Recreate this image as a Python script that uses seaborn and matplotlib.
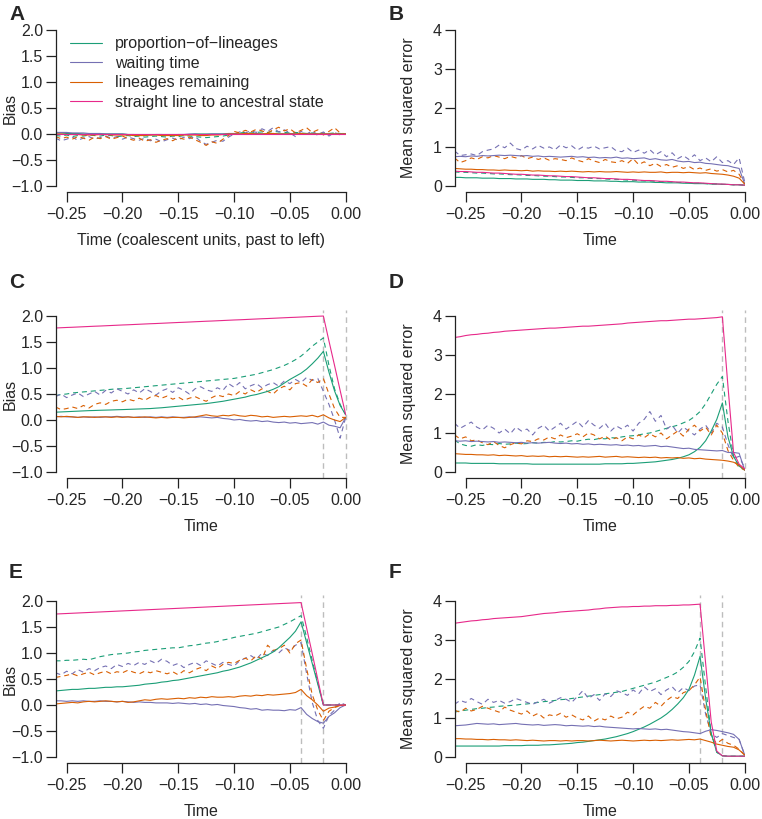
import matplotlib
matplotlib.use("Agg")
import matplotlib.pyplot as plt
from matplotlib.lines import Line2D
import seaborn as sns

# time axis: coalescent units, every 0.005 from -0.26 to 0
time = [-0.26, -0.255, -0.25, -0.245, -0.24, -0.235, -0.23, -0.225, -0.22, -0.215,
        -0.21, -0.205, -0.2, -0.195, -0.19, -0.185, -0.18, -0.175, -0.17, -0.165,
        -0.16, -0.155, -0.15, -0.145, -0.14, -0.135, -0.13, -0.125, -0.12, -0.115,
        -0.11, -0.105, -0.1, -0.095, -0.09, -0.085, -0.08, -0.075, -0.07, -0.065,
        -0.06, -0.055, -0.05, -0.045, -0.04, -0.035, -0.03, -0.025, -0.02, -0.015,
        -0.01, -0.005, 0.0]

methods = ["proportion\u2212of\u2212lineages", "waiting time", "lineages remaining",
           "straight line to ancestral state"]
colors = ["#1B9E77", "#7570B3", "#D95F02", "#E7298A"]

# ---- panel A (bias) ----
a_green = [0.02, 0.02, 0.01, 0.01, 0.01, 0.0, 0.0, 0.0, 0.0, 0.0,
           0.0, 0.0, 0.0, -0.01, -0.01, -0.01, -0.01, -0.01, -0.01, -0.01,
           -0.01, -0.01, -0.01, -0.01, -0.01, 0.0, 0.0, 0.0, 0.0, 0.0,
           0.0, 0.0, 0.0, 0.0, 0.0, 0.0, 0.0, 0.0, 0.0, 0.0,
           0.0, 0.0, 0.0, 0.0, 0.0, 0.0, 0.0, 0.0, 0.0, 0.0,
           0.0, 0.0, 0.0]
a_purple = [0.03, 0.03, 0.03, 0.02, 0.02, 0.02, 0.01, 0.01, 0.01, 0.0,
            0.0, 0.0, 0.0, -0.01, -0.01, -0.02, -0.02, -0.02, -0.01, -0.01,
            -0.02, -0.02, -0.01, -0.01, 0.0, 0.0, -0.01, -0.01, 0.0, 0.0,
            0.0, 0.01, 0.01, 0.0, 0.0, 0.01, 0.01, 0.0, 0.0, 0.01,
            0.0, 0.0, 0.01, 0.0, 0.0, 0.0, 0.01, 0.0, 0.0, 0.0,
            0.0, 0.0, 0.0]
a_orange = [0.0, 0.0, -0.01, -0.01, -0.01, -0.02, -0.02, -0.02, -0.01, -0.01,
            -0.02, -0.02, -0.02, -0.02, -0.03, -0.03, -0.03, -0.02, -0.02, -0.03,
            -0.03, -0.03, -0.03, -0.02, -0.02, -0.02, -0.03, -0.03, -0.02, -0.02,
            -0.01, 0.0, 0.0, 0.0, 0.01, 0.01, 0.0, 0.0, 0.01, 0.01,
            0.0, 0.0, 0.0, 0.0, 0.01, 0.0, 0.0, 0.0, 0.0, 0.0,
            0.0, 0.0, 0.0]
a_magenta = [0.0] * 53
a_green_d = [-0.03, -0.04, -0.02, -0.05, -0.03, -0.04, -0.02, -0.03, -0.04, -0.02,
             -0.03, -0.05, -0.04, -0.03, -0.05, -0.04, -0.06, -0.05, -0.04, -0.05,
             -0.06, -0.04, -0.05, -0.03, -0.04, -0.05, -0.06, -0.07, -0.06, -0.05,
             -0.04, -0.02, 0.0, 0.02, 0.03, 0.02, 0.03, 0.04, 0.03, 0.05,
             0.04, 0.03, 0.02, 0.03, 0.02, 0.01, 0.02, 0.01, 0.02, 0.01,
             0.02, 0.01, 0.0]
a_purple_d = [-0.08, -0.13, -0.1, -0.06, -0.12, -0.08, -0.05, -0.1, -0.07, -0.04,
              -0.08, -0.05, -0.1, -0.06, -0.09, -0.12, -0.08, -0.13, -0.1, -0.15,
              -0.11, -0.08, -0.12, -0.06, -0.09, -0.05, -0.14, -0.2, -0.16, -0.12,
              -0.14, -0.06, 0.0, 0.04, 0.02, 0.06, 0.03, 0.1, 0.05, 0.12,
              0.04, 0.08, 0.02, -0.05, 0.05, 0.0, 0.06, -0.03, 0.04, -0.04,
              0.03, -0.02, 0.0]
a_orange_d = [-0.05, -0.09, -0.06, -0.1, -0.05, -0.08, -0.12, -0.06, -0.09, -0.05,
              -0.1, -0.07, -0.04, -0.09, -0.12, -0.08, -0.14, -0.11, -0.16, -0.12,
              -0.09, -0.13, -0.07, -0.1, -0.06, -0.11, -0.16, -0.22, -0.15, -0.18,
              -0.1, -0.03, 0.05, 0.02, 0.07, 0.04, 0.09, 0.06, 0.02, 0.08,
              0.13, 0.06, 0.1, 0.02, 0.07, 0.12, 0.03, 0.08, -0.02, 0.05,
              0.12, 0.02, 0.0]

# ---- panel B (MSE) ----
b_green = [0.22, 0.22, 0.21, 0.21, 0.21, 0.2, 0.2, 0.2, 0.19, 0.19,
           0.19, 0.18, 0.18, 0.18, 0.17, 0.17, 0.17, 0.16, 0.16, 0.15,
           0.15, 0.15, 0.14, 0.14, 0.14, 0.13, 0.13, 0.13, 0.12, 0.12,
           0.11, 0.11, 0.11, 0.1, 0.1, 0.1, 0.09, 0.09, 0.08, 0.08,
           0.08, 0.07, 0.07, 0.06, 0.06, 0.06, 0.05, 0.05, 0.04, 0.04,
           0.03, 0.03, 0.02]
b_purple = [0.75, 0.76, 0.75, 0.77, 0.76, 0.78, 0.77, 0.78, 0.79, 0.78,
            0.79, 0.78, 0.77, 0.78, 0.76, 0.77, 0.75, 0.76, 0.75, 0.74,
            0.75, 0.76, 0.74, 0.75, 0.73, 0.74, 0.72, 0.73, 0.72, 0.74,
            0.71, 0.72, 0.7, 0.71, 0.72, 0.68, 0.7, 0.67, 0.66, 0.68,
            0.64, 0.62, 0.63, 0.6, 0.61, 0.58, 0.57, 0.55, 0.53, 0.52,
            0.48, 0.45, 0.05]
b_orange = [0.45, 0.44, 0.43, 0.43, 0.42, 0.42, 0.41, 0.41, 0.4, 0.41,
            0.4, 0.4, 0.39, 0.4, 0.38, 0.39, 0.38, 0.38, 0.37, 0.38,
            0.37, 0.38, 0.37, 0.36, 0.37, 0.36, 0.37, 0.36, 0.36, 0.37,
            0.36, 0.35, 0.36, 0.35, 0.36, 0.35, 0.35, 0.36, 0.34, 0.35,
            0.35, 0.34, 0.35, 0.34, 0.33, 0.34, 0.32, 0.31, 0.3, 0.28,
            0.25, 0.2, 0.05]
b_magenta = [0.38, 0.37, 0.37, 0.36, 0.35, 0.35, 0.34, 0.33, 0.33, 0.32,
             0.31, 0.3, 0.3, 0.29, 0.28, 0.28, 0.27, 0.26, 0.26, 0.25,
             0.24, 0.24, 0.23, 0.22, 0.21, 0.21, 0.2, 0.19, 0.19, 0.18,
             0.17, 0.17, 0.16, 0.15, 0.14, 0.14, 0.13, 0.12, 0.12, 0.11,
             0.1, 0.1, 0.09, 0.08, 0.08, 0.07, 0.06, 0.05, 0.05, 0.04,
             0.03, 0.03, 0.02]
b_green_d = [0.36, 0.35, 0.35, 0.34, 0.33, 0.33, 0.32, 0.31, 0.31, 0.3,
             0.29, 0.29, 0.28, 0.27, 0.27, 0.26, 0.25, 0.25, 0.24, 0.23,
             0.23, 0.22, 0.21, 0.21, 0.2, 0.19, 0.19, 0.18, 0.17, 0.17,
             0.16, 0.15, 0.15, 0.14, 0.13, 0.13, 0.12, 0.11, 0.11, 0.1,
             0.09, 0.09, 0.08, 0.07, 0.07, 0.06, 0.05, 0.05, 0.04, 0.04,
             0.03, 0.03, 0.02]
b_purple_d = [0.9, 0.78, 0.8, 0.82, 0.78, 0.88, 0.92, 0.95, 1.05, 0.98,
              1.1, 0.96, 0.92, 1.02, 0.95, 1.04, 0.97, 1.0, 0.93, 1.05,
              0.98, 1.03, 0.92, 1.0, 0.97, 1.02, 0.95, 0.98, 1.01, 0.9,
              0.88, 0.97, 0.86, 0.92, 0.84, 0.93, 0.8, 0.88, 0.75, 0.85,
              0.7, 0.78, 0.68, 0.8, 0.65, 0.72, 0.62, 0.75, 0.6, 0.65,
              0.55, 0.72, 0.1]
b_orange_d = [0.72, 0.6, 0.65, 0.72, 0.68, 0.75, 0.72, 0.78, 0.74, 0.7,
              0.76, 0.72, 0.78, 0.7, 0.74, 0.68, 0.72, 0.66, 0.7, 0.68,
              0.65, 0.72, 0.66, 0.62, 0.7, 0.64, 0.6, 0.68, 0.62, 0.6,
              0.65, 0.58, 0.7, 0.55, 0.62, 0.52, 0.58, 0.5, 0.55, 0.48,
              0.52, 0.45, 0.5, 0.42, 0.46, 0.4, 0.44, 0.38, 0.42, 0.36,
              0.4, 0.3, 0.05]

# ---- panel C (bias) ----
c_green = [0.15, 0.155, 0.16, 0.165, 0.17, 0.175, 0.18, 0.183, 0.187, 0.19,
           0.193, 0.197, 0.2, 0.204, 0.208, 0.212, 0.216, 0.22, 0.228, 0.235,
           0.245, 0.255, 0.265, 0.275, 0.285, 0.295, 0.305, 0.315, 0.33, 0.345,
           0.36, 0.38, 0.4, 0.42, 0.44, 0.47, 0.49, 0.52, 0.55, 0.59,
           0.64, 0.71, 0.78, 0.84, 0.9, 0.98, 1.08, 1.19, 1.32, 0.92,
           0.56, 0.28, 0.1]
c_purple = [0.06, 0.07, 0.06, 0.06, 0.05, 0.06, 0.05, 0.06, 0.05, 0.06,
            0.06, 0.07, 0.06, 0.06, 0.05, 0.06, 0.05, 0.06, 0.05, 0.06,
            0.05, 0.06, 0.05, 0.05, 0.06, 0.05, 0.06, 0.05, 0.04, 0.05,
            0.03, 0.02, 0.0, 0.01, -0.01, -0.02, -0.01, -0.03, -0.02, -0.04,
            -0.05, -0.04, -0.06, -0.05, -0.07, -0.06, -0.05, -0.08, -0.04, -0.1,
            -0.12, -0.15, 0.05]
c_orange = [0.07, 0.06, 0.07, 0.06, 0.05, 0.06, 0.06, 0.05, 0.06, 0.06,
            0.05, 0.06, 0.05, 0.06, 0.05, 0.05, 0.06, 0.05, 0.04, 0.05,
            0.04, 0.05, 0.05, 0.04, 0.05, 0.06, 0.08, 0.1, 0.08, 0.07,
            0.09, 0.08, 0.1, 0.08, 0.07, 0.09, 0.08, 0.06, 0.07, 0.05,
            0.06, 0.07, 0.06, 0.07, 0.08, 0.07, 0.09, 0.06, 0.1, 0.04,
            0.0, -0.03, 0.05]
c_magenta = [1.77, 1.775, 1.78, 1.784, 1.789, 1.794, 1.799, 1.804, 1.808, 1.813,
             1.818, 1.823, 1.828, 1.832, 1.837, 1.842, 1.847, 1.852, 1.856, 1.861,
             1.866, 1.871, 1.876, 1.88, 1.885, 1.89, 1.895, 1.9, 1.904, 1.909,
             1.914, 1.919, 1.924, 1.928, 1.933, 1.938, 1.943, 1.948, 1.952, 1.957,
             1.962, 1.967, 1.972, 1.976, 1.981, 1.986, 1.991, 1.996, 2.0, 1.52,
             1.05, 0.57, 0.1]
c_green_d = [0.47, 0.49, 0.5, 0.52, 0.53, 0.54, 0.55, 0.56, 0.57, 0.58,
             0.59, 0.6, 0.6, 0.61, 0.62, 0.63, 0.64, 0.65, 0.66, 0.67,
             0.68, 0.69, 0.7, 0.71, 0.72, 0.73, 0.74, 0.75, 0.76, 0.77,
             0.78, 0.79, 0.8, 0.82, 0.84, 0.86, 0.88, 0.91, 0.94, 0.97,
             1.01, 1.05, 1.1, 1.16, 1.23, 1.32, 1.42, 1.5, 1.58, 1.05,
             0.6, 0.3, 0.1]
c_purple_d = [0.45, 0.5, 0.43, 0.48, 0.52, 0.45, 0.5, 0.55, 0.48, 0.57,
              0.52, 0.6, 0.55, 0.5, 0.58, 0.52, 0.6, 0.55, 0.48, 0.56,
              0.6, 0.53, 0.62, 0.57, 0.5, 0.6, 0.64, 0.58, 0.55, 0.62,
              0.57, 0.7, 0.63, 0.72, 0.6, 0.66, 0.7, 0.62, 0.68, 0.72,
              0.65, 0.75, 0.7, 0.78, 0.72, 0.82, 0.76, 0.8, 0.55, 0.3,
              0.0, -0.35, 0.05]
c_orange_d = [0.25, 0.2, 0.22, 0.25, 0.22, 0.28, 0.23, 0.3, 0.33, 0.3,
              0.36, 0.38, 0.35, 0.4, 0.37, 0.42, 0.38, 0.44, 0.47, 0.42,
              0.46, 0.4, 0.44, 0.38, 0.42, 0.45, 0.4, 0.36, 0.43, 0.48,
              0.45, 0.5, 0.47, 0.55, 0.5, 0.58, 0.53, 0.6, 0.55, 0.5,
              0.6, 0.65, 0.58, 0.7, 0.72, 0.65, 0.78, 0.72, 0.8, 0.5,
              0.22, 0.05, 0.05]

# ---- panel D (MSE) ----
d_green = [0.23, 0.23, 0.23, 0.22, 0.22, 0.22, 0.22, 0.22, 0.21, 0.21,
           0.21, 0.21, 0.21, 0.21, 0.2, 0.2, 0.2, 0.2, 0.2, 0.2,
           0.2, 0.2, 0.2, 0.2, 0.2, 0.2, 0.2, 0.21, 0.21, 0.21,
           0.21, 0.22, 0.22, 0.23, 0.24, 0.25, 0.26, 0.28, 0.3, 0.32,
           0.35, 0.39, 0.44, 0.52, 0.63, 0.8, 1.05, 1.35, 1.77, 0.9,
           0.4, 0.15, 0.05]
d_purple = [0.8, 0.79, 0.8, 0.78, 0.79, 0.78, 0.77, 0.78, 0.76, 0.77,
            0.76, 0.75, 0.76, 0.74, 0.75, 0.74, 0.75, 0.76, 0.74, 0.73,
            0.74, 0.72, 0.73, 0.71, 0.72, 0.7, 0.71, 0.7, 0.69, 0.7,
            0.68, 0.69, 0.67, 0.68, 0.66, 0.67, 0.68, 0.65, 0.66, 0.64,
            0.62, 0.6, 0.61, 0.58, 0.57, 0.56, 0.55, 0.54, 0.55, 0.5,
            0.5, 0.48, 0.05]
d_orange = [0.47, 0.46, 0.45, 0.45, 0.44, 0.44, 0.43, 0.44, 0.42, 0.43,
            0.42, 0.41, 0.42, 0.4, 0.41, 0.4, 0.41, 0.39, 0.4, 0.39,
            0.4, 0.39, 0.38, 0.39, 0.38, 0.39, 0.4, 0.38, 0.39, 0.4,
            0.38, 0.39, 0.38, 0.37, 0.38, 0.37, 0.38, 0.36, 0.37, 0.36,
            0.37, 0.35, 0.36, 0.34, 0.35, 0.33, 0.32, 0.31, 0.3, 0.28,
            0.25, 0.18, 0.05]
d_magenta = [3.45, 3.47, 3.5, 3.52, 3.53, 3.55, 3.56, 3.58, 3.59, 3.61,
             3.62, 3.63, 3.64, 3.65, 3.66, 3.67, 3.68, 3.69, 3.69, 3.7,
             3.71, 3.72, 3.73, 3.74, 3.74, 3.75, 3.76, 3.77, 3.78, 3.79,
             3.8, 3.82, 3.83, 3.84, 3.85, 3.86, 3.87, 3.88, 3.88, 3.89,
             3.9, 3.91, 3.92, 3.92, 3.93, 3.94, 3.95, 3.96, 3.98, 2.2,
             0.5, 0.2, 0.08]
d_green_d = [0.82, 0.72, 0.68, 0.66, 0.7, 0.68, 0.71, 0.7, 0.73, 0.71,
             0.72, 0.74, 0.72, 0.73, 0.75, 0.74, 0.76, 0.75, 0.78, 0.77,
             0.78, 0.8, 0.79, 0.82, 0.84, 0.83, 0.86, 0.85, 0.88, 0.87,
             0.9, 0.92, 0.93, 0.95, 0.98, 1.0, 1.04, 1.08, 1.12, 1.16,
             1.2, 1.26, 1.32, 1.42, 1.55, 1.75, 2.0, 2.25, 2.45, 1.3,
             0.4, 0.15, 0.05]
d_purple_d = [1.25, 1.12, 1.2, 1.28, 1.15, 1.08, 1.2, 1.12, 1.0, 1.1,
              0.98, 1.15, 1.05, 1.1, 0.95, 1.12, 1.2, 1.05, 1.15, 1.25,
              1.1, 1.2, 1.3, 1.15, 1.32, 1.2, 1.12, 1.25, 1.05, 1.18,
              1.1, 1.2, 1.05, 1.25, 1.35, 1.55, 1.3, 1.45, 1.1, 1.2,
              1.0, 1.15, 1.05, 0.95, 1.1, 1.2, 1.0, 1.25, 1.15, 0.7,
              0.35, 0.4, 0.1]
d_orange_d = [0.95, 0.85, 0.9, 0.8, 0.82, 0.75, 0.7, 0.78, 0.68, 0.62,
              0.7, 0.75, 0.72, 0.8, 0.78, 0.85, 0.82, 0.9, 0.85, 0.95,
              0.88, 0.92, 0.98, 0.9, 1.0, 0.95, 0.85, 0.92, 0.82, 0.88,
              0.8, 0.9, 0.85, 0.95, 0.88, 0.98, 0.9, 1.0, 0.85, 0.95,
              1.05, 0.92, 1.1, 1.2, 1.05, 1.15, 0.95, 1.2, 1.0, 0.55,
              0.3, 0.12, 0.05]

# ---- panel E (bias) ----
e_green = [0.27, 0.28, 0.29, 0.3, 0.3, 0.31, 0.32, 0.32, 0.33, 0.34,
           0.34, 0.35, 0.35, 0.36, 0.37, 0.38, 0.4, 0.41, 0.42, 0.44,
           0.45, 0.47, 0.48, 0.5, 0.52, 0.54, 0.56, 0.58, 0.6, 0.62,
           0.65, 0.67, 0.7, 0.73, 0.77, 0.81, 0.86, 0.91, 0.96, 1.02,
           1.1, 1.2, 1.3, 1.42, 1.6, 1.2, 0.8, 0.4, 0.0, 0.0,
           0.0, 0.0, 0.0]
e_purple = [0.08, 0.08, 0.07, 0.08, 0.07, 0.08, 0.07, 0.07, 0.08, 0.07,
            0.07, 0.06, 0.07, 0.06, 0.05, 0.06, 0.05, 0.05, 0.04, 0.04,
            0.04, 0.03, 0.04, 0.03, 0.02, 0.03, 0.01, 0.02, 0.0, 0.01,
            -0.01, -0.02, -0.03, -0.05, -0.06, -0.08, -0.07, -0.1, -0.09, -0.1,
            -0.1, -0.11, -0.09, -0.1, -0.05, -0.18, -0.26, -0.32, -0.35, -0.22,
            -0.15, -0.05, 0.0]
e_orange = [0.02, 0.03, 0.04, 0.05, 0.04, 0.06, 0.07, 0.06, 0.07, 0.08,
            0.07, 0.06, 0.07, 0.05, 0.06, 0.08, 0.1, 0.09, 0.11, 0.12,
            0.11, 0.12, 0.13, 0.12, 0.14, 0.13, 0.15, 0.14, 0.16, 0.15,
            0.15, 0.16, 0.15, 0.17, 0.18, 0.17, 0.19, 0.18, 0.2, 0.19,
            0.2, 0.21, 0.22, 0.24, 0.3, 0.18, 0.1, 0.0, -0.12, -0.06,
            -0.04, -0.01, 0.0]
e_magenta = [1.75, 1.755, 1.76, 1.765, 1.77, 1.775, 1.78, 1.785, 1.79, 1.795,
             1.8, 1.805, 1.81, 1.815, 1.82, 1.825, 1.83, 1.835, 1.84, 1.845,
             1.85, 1.855, 1.86, 1.865, 1.87, 1.875, 1.88, 1.885, 1.89, 1.895,
             1.9, 1.905, 1.91, 1.915, 1.92, 1.925, 1.93, 1.935, 1.94, 1.945,
             1.95, 1.955, 1.96, 1.965, 1.97, 1.48, 0.99, 0.49, 0.0, 0.0,
             0.0, 0.0, 0.0]
e_green_d = [0.85, 0.85, 0.86, 0.86, 0.87, 0.88, 0.87, 0.9, 0.93, 0.95,
             0.97, 0.98, 0.99, 1.0, 1.02, 1.03, 1.05, 1.06, 1.07, 1.08,
             1.09, 1.1, 1.1, 1.12, 1.14, 1.15, 1.17, 1.19, 1.2, 1.22,
             1.25, 1.27, 1.3, 1.32, 1.34, 1.36, 1.38, 1.41, 1.44, 1.47,
             1.5, 1.55, 1.6, 1.66, 1.72, 1.3, 0.86, 0.43, 0.0, 0.0,
             0.0, 0.0, 0.0]
e_purple_d = [0.62, 0.58, 0.65, 0.6, 0.68, 0.63, 0.7, 0.66, 0.72, 0.75,
              0.7, 0.78, 0.74, 0.8, 0.76, 0.82, 0.78, 0.85, 0.8, 0.88,
              0.84, 0.76, 0.8, 0.72, 0.78, 0.82, 0.76, 0.85, 0.8, 0.75,
              0.82, 0.78, 0.75, 0.85, 0.9, 0.95, 0.88, 1.0, 0.95, 1.05,
              1.0, 1.1, 1.05, 1.15, 1.2, 0.6, 0.05, -0.3, -0.45, -0.2,
              -0.1, 0.05, 0.0]
e_orange_d = [0.53, 0.55, 0.57, 0.6, 0.56, 0.6, 0.63, 0.58, 0.62, 0.65,
              0.6, 0.64, 0.62, 0.67, 0.63, 0.6, 0.65, 0.62, 0.66, 0.63,
              0.6, 0.64, 0.58, 0.66, 0.62, 0.68, 0.72, 0.66, 0.75, 0.7,
              0.78, 0.82, 0.8, 0.86, 0.9, 0.85, 0.95, 0.88, 1.15, 1.05,
              1.08, 1.15, 1.0, 1.18, 1.25, 0.7, 0.2, -0.1, -0.3, -0.12,
              -0.05, 0.0, 0.0]

# ---- panel F (MSE) ----
f_green = [0.28, 0.28, 0.28, 0.28, 0.28, 0.28, 0.28, 0.28, 0.28, 0.29,
           0.29, 0.29, 0.29, 0.3, 0.3, 0.3, 0.31, 0.31, 0.32, 0.33,
           0.34, 0.35, 0.37, 0.38, 0.4, 0.42, 0.44, 0.46, 0.49, 0.52,
           0.56, 0.6, 0.65, 0.71, 0.77, 0.84, 0.92, 1.0, 1.1, 1.22,
           1.36, 1.52, 1.73, 2.1, 2.58, 1.5, 0.6, 0.12, 0.03, 0.02,
           0.02, 0.02, 0.02]
f_purple = [0.8, 0.81, 0.82, 0.84, 0.86, 0.85, 0.84, 0.85, 0.83, 0.84,
            0.85, 0.86, 0.84, 0.83, 0.82, 0.83, 0.81, 0.82, 0.83, 0.82,
            0.8, 0.81, 0.8, 0.79, 0.8, 0.78, 0.79, 0.77, 0.76, 0.75,
            0.74, 0.73, 0.72, 0.73, 0.72, 0.71, 0.72, 0.7, 0.71, 0.69,
            0.67, 0.65, 0.64, 0.62, 0.6, 0.66, 0.7, 0.68, 0.65, 0.62,
            0.58, 0.45, 0.05]
f_orange = [0.47, 0.47, 0.46, 0.46, 0.45, 0.45, 0.44, 0.45, 0.44, 0.44,
            0.43, 0.44, 0.43, 0.42, 0.43, 0.42, 0.41, 0.42, 0.42, 0.41,
            0.42, 0.41, 0.42, 0.42, 0.41, 0.42, 0.43, 0.42, 0.41, 0.42,
            0.43, 0.42, 0.41, 0.42, 0.43, 0.42, 0.43, 0.42, 0.43, 0.44,
            0.43, 0.44, 0.45, 0.44, 0.46, 0.42, 0.38, 0.33, 0.3, 0.27,
            0.25, 0.18, 0.05]
f_magenta = [3.43, 3.45, 3.47, 3.49, 3.5, 3.52, 3.53, 3.55, 3.56, 3.57,
             3.58, 3.59, 3.6, 3.62, 3.64, 3.66, 3.68, 3.69, 3.7, 3.72,
             3.73, 3.74, 3.75, 3.76, 3.77, 3.79, 3.8, 3.82, 3.83, 3.84,
             3.85, 3.85, 3.86, 3.86, 3.87, 3.87, 3.88, 3.88, 3.88, 3.89,
             3.89, 3.9, 3.9, 3.91, 3.92, 2.4, 0.9, 0.15, 0.03, 0.02,
             0.02, 0.02, 0.02]
f_green_d = [1.15, 1.18, 1.2, 1.22, 1.24, 1.25, 1.27, 1.28, 1.3, 1.31,
             1.32, 1.33, 1.35, 1.36, 1.38, 1.4, 1.42, 1.43, 1.45, 1.47,
             1.48, 1.5, 1.52, 1.54, 1.56, 1.58, 1.6, 1.62, 1.64, 1.66,
             1.68, 1.72, 1.76, 1.8, 1.84, 1.88, 1.92, 1.98, 2.04, 2.1,
             2.18, 2.3, 2.45, 2.7, 3.05, 1.8, 0.6, 0.12, 0.03, 0.02,
             0.02, 0.02, 0.02]
f_purple_d = [1.35, 1.45, 1.4, 1.5, 1.42, 1.35, 1.48, 1.4, 1.45, 1.38,
              1.42, 1.5, 1.45, 1.4, 1.35, 1.42, 1.48, 1.38, 1.45, 1.52,
              1.48, 1.4, 1.55, 1.7, 1.5, 1.6, 1.45, 1.62, 1.55, 1.7,
              1.65, 1.58, 1.72, 1.62, 1.8, 1.68, 1.75, 1.6, 1.72, 1.8,
              1.65, 1.78, 1.7, 1.82, 1.85, 1.1, 0.6, 0.5, 0.6, 0.55,
              0.5, 0.45, 0.05]
f_orange_d = [1.2, 1.15, 1.25, 1.18, 1.22, 1.3, 1.25, 1.2, 1.15, 1.28,
              1.2, 1.15, 1.1, 1.18, 1.05, 1.12, 1.0, 1.08, 1.05, 1.12,
              1.02, 1.08, 1.0, 0.95, 1.05, 0.92, 1.0, 0.95, 1.05, 0.98,
              1.02, 1.15, 1.08, 1.2, 1.3, 1.25, 1.4, 1.3, 1.45, 1.55,
              1.5, 1.65, 1.7, 1.85, 2.05, 1.2, 0.5, 0.35, 0.45, 0.35,
              0.3, 0.2, 0.05]

# letter, solid series, dashed series, kind, vertical marker times
panels = [
    ("A", [a_green, a_purple, a_orange, a_magenta], [a_green_d, a_purple_d, a_orange_d], "bias", []),
    ("B", [b_green, b_purple, b_orange, b_magenta], [b_green_d, b_purple_d, b_orange_d], "mse", []),
    ("C", [c_green, c_purple, c_orange, c_magenta], [c_green_d, c_purple_d, c_orange_d], "bias", [-0.02, 0.0]),
    ("D", [d_green, d_purple, d_orange, d_magenta], [d_green_d, d_purple_d, d_orange_d], "mse", [-0.02, 0.0]),
    ("E", [e_green, e_purple, e_orange, e_magenta], [e_green_d, e_purple_d, e_orange_d], "bias", [-0.04, -0.02]),
    ("F", [f_green, f_purple, f_orange, f_magenta], [f_green_d, f_purple_d, f_orange_d], "mse", [-0.04, -0.02]),
]

sns.set_style("ticks")
plt.rcParams["font.family"] = ["Liberation Sans", "DejaVu Sans"]
plt.rcParams["axes.unicode_minus"] = True

fig = plt.figure(figsize=(7.62, 8.19), dpi=100)
W, H = 762.0, 819.0
col_left = [55.5, 454.5]
row_bottom = [192.2, 478.2, 763.2]   # pixel y of the x axis line
row_letter = [20, 288, 578]
ax_w, ax_h = 290.2, 168.4
fs = 11.5
lw = 0.8

for k, (letter, solid, dashed, kind, vlines) in enumerate(panels):
    r, c = k // 2, k % 2
    ax = fig.add_axes([col_left[c] / W, 1 - row_bottom[r] / H, ax_w / W, ax_h / H])

    for x in vlines:
        ax.axvline(x, color="#bdbdbd", lw=1.0, linestyle=(0, (4, 3)), zorder=0, clip_on=False)

    for vals, col in zip(dashed, colors):
        sns.lineplot(x=time, y=vals, ax=ax, color=col, lw=lw, linestyle=(0, (4.5, 3.5)),
                     estimator=None, errorbar=None, legend=False)
    for vals, col in zip(solid, colors):
        sns.lineplot(x=time, y=vals, ax=ax, color=col, lw=lw,
                     estimator=None, errorbar=None, legend=False)

    ax.set_xlim(-0.26, 0.0)
    ax.set_xticks([-0.25, -0.2, -0.15, -0.1, -0.05, 0.0])
    ax.spines["bottom"].set_bounds(-0.25, 0.0)
    if kind == "bias":
        ax.set_ylim(-1.12, 2.12)
        ax.set_yticks([-1.0, -0.5, 0.0, 0.5, 1.0, 1.5, 2.0])
        ax.spines["left"].set_bounds(-1.0, 2.0)
        ax.set_ylabel("Bias", fontsize=fs)
    else:
        ax.set_ylim(-0.16, 4.16)
        ax.set_yticks([0, 1, 2, 3, 4])
        ax.spines["left"].set_bounds(0, 4)
        ax.set_ylabel("Mean squared error", fontsize=fs)
    for s in ["top", "right"]:
        ax.spines[s].set_visible(False)
    for s in ["left", "bottom"]:
        ax.spines[s].set_linewidth(0.9)
        ax.spines[s].set_color("#222222")

    ax.tick_params(axis="both", length=7, width=0.9, color="#222222", labelsize=fs)
    ax.tick_params(axis="y", pad=2)
    ax.tick_params(axis="x", pad=4)
    ax.yaxis.set_label_coords(-0.131, 0.5)

    xlabel = "Time (coalescent units, past to left)" if letter == "A" else "Time"
    ax.set_xlabel(xlabel, fontsize=fs)
    ax.xaxis.set_label_coords(0.5, -0.245)

    fig.text((9 if c == 0 else 389) / W, 1 - row_letter[r] / H, letter,
             fontsize=15, fontweight="bold", va="baseline", ha="left")

    if letter == "A":
        handles = [Line2D([], [], color=col, lw=lw) for col in colors]
        ax.legend(handles, methods, loc="upper left", bbox_to_anchor=(0.05, 0.925),
                  frameon=False, fontsize=fs, handlelength=2.0, handletextpad=0.8,
                  labelspacing=0.28, borderpad=0, borderaxespad=0)

fig.savefig("out.png", dpi=100)
